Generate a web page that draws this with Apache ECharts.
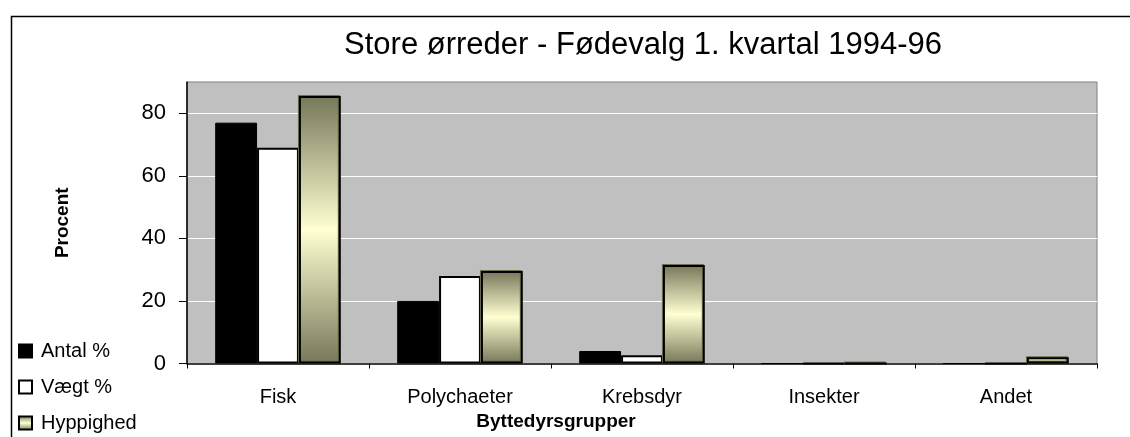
<!DOCTYPE html>
<html>
<head>
<meta charset="utf-8">
<script src="https://cdn.jsdelivr.net/npm/echarts@6/dist/echarts.min.js"></script>
<style>
    html, body { margin: 0; padding: 0; background: #fff; }
</style>
</head>
<body>
<div id="main" style="width: 1130px;height:437px;"></div>
<script>
    // kategorier og værdier
    var categories = ['Fisk', 'Polychaeter', 'Krebsdyr', 'Insekter', 'Andet'];
    var antal = [77, 20, 4, 0, 0];
    var vaegt = [69, 28, 2.6, 0, 0];
    var hyppighed = [85.5, 29.6, 31.5, 0, 2];
    var yTicks = [0, 20, 40, 60, 80];

    var font = 'Liberation Sans, Arial, sans-serif';

    var gradient = new echarts.graphic.LinearGradient(0, 0, 0, 1, [
        {offset: 0, color: '#77775a'},
        {offset: 0.5, color: '#ffffd2'},
        {offset: 1, color: '#77775a'}
    ]);

    var myChart = echarts.init(document.getElementById('main'));
    var option = {
        animation: false,
        textStyle: {fontFamily: font, color: '#000'},
        title: {
            text: 'Store ørreder - Fødevalg 1. kvartal 1994-96',
            left: 638,
            top: 25,
            textAlign: 'center',
            textStyle: {fontFamily: font, fontSize: 31, fontWeight: 'normal', color: '#000'}
        },
        graphic: [
            {
                type: 'rect',
                left: 9, top: 14,
                shape: {width: 1200, height: 500},
                style: {fill: 'none', stroke: '#000', lineWidth: 1.5},
                z: -10
            }
        ],
        legend: {
            orient: 'vertical',
            left: 18,
            top: 341,
            height: 120,
            padding: 0,
            itemWidth: 13,
            itemHeight: 13,
            itemGap: 16,
            icon: 'rect',
            textStyle: {fontFamily: font, fontSize: 20, color: '#000', padding: [0, 0, 0, 4]},
            data: ['Antal %', 'Vægt %', 'Hyppighed']
        },
        grid: {
            left: 187,
            top: 82,
            width: 910,
            height: 281.5,
            show: true,
            backgroundColor: '#c0c0c0',
            borderColor: '#808080',
            borderWidth: 1
        },
        xAxis: {
            type: 'category',
            data: categories,
            name: 'Byttedyrsgrupper',
            nameLocation: 'middle',
            nameGap: 48,
            nameTextStyle: {fontFamily: font, fontSize: 19, fontWeight: 'bold', color: '#000', padding: [0, 172, 0, 0]},
            axisLine: {lineStyle: {color: '#000', width: 1.5}},
            axisTick: {show: true, length: 5, lineStyle: {color: '#000'}},
            axisLabel: {fontFamily: font, fontSize: 20, color: '#000', margin: 24}
        },
        yAxis: {
            type: 'value',
            min: 0,
            max: 90,
            interval: 20,
            name: 'Procent',
            nameLocation: 'middle',
            nameRotate: 90,
            nameGap: 115,
            nameTextStyle: {fontFamily: font, fontSize: 19, fontWeight: 'bold', color: '#000'},
            axisLine: {show: true, lineStyle: {color: '#000', width: 1.5}},
            axisTick: {show: true, length: 8, customValues: yTicks, lineStyle: {color: '#000'}},
            axisLabel: {
                fontFamily: font, fontSize: 22, color: '#000', margin: 21,
                customValues: yTicks
            },
            splitLine: {show: true, lineStyle: {color: '#ffffff', width: 1}}
        },
        series: [
            {
                name: 'Antal %',
                type: 'bar',
                data: antal,
                barWidth: '23%',
                barGap: '0%',
                itemStyle: {color: '#000', borderColor: '#000', borderWidth: 1}
            },
            {
                name: 'Vægt %',
                type: 'bar',
                data: vaegt,
                barWidth: '23%',
                barGap: '0%',
                itemStyle: {color: '#fff', borderColor: '#000', borderWidth: 2}
            },
            {
                name: 'Hyppighed',
                type: 'bar',
                data: hyppighed,
                barWidth: '23%',
                barGap: '0%',
                itemStyle: {
                    color: gradient, borderColor: '#000', borderWidth: 2,
                    shadowColor: '#6f6f52', shadowOffsetX: -1, shadowOffsetY: -1, shadowBlur: 0
                }
            }
        ]
    };
    myChart.setOption(option);
</script>
</body>
</html>
